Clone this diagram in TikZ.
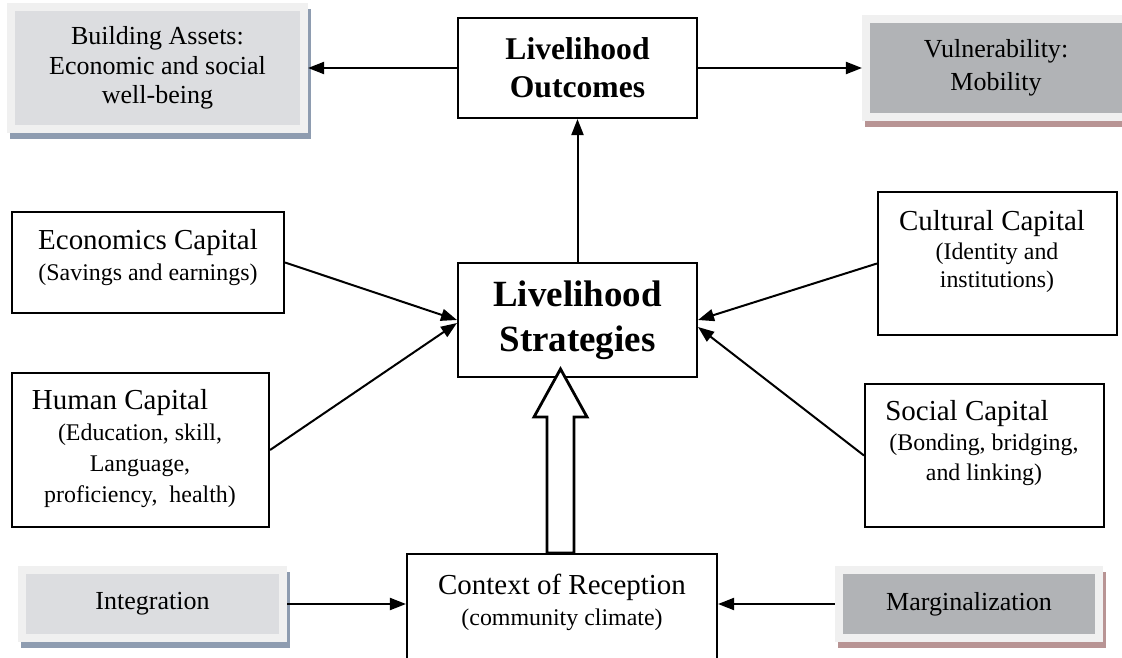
\documentclass[tikz,border=0pt]{standalone}
\usepackage{fontspec}
\setmainfont{Liberation Serif}
\usetikzlibrary{arrows.meta}
\definecolor{panelfill}{RGB}{220,221,224}
\definecolor{paneldark}{RGB}{177,179,182}
\definecolor{panelrim}{RGB}{240,240,240}
\definecolor{shadeblue}{RGB}{142,156,176}
\definecolor{shadered}{RGB}{184,148,148}
\newcommand\boxtitle[1]{{\fontsize{20.6}{22}\selectfont #1}}
\begin{document}
\begin{tikzpicture}[x=0.025cm,y=-0.025cm,
  box/.style={draw,line width=0.05cm,inner sep=0pt},
  panel/.style={fill=#1,draw=panelrim,line width=0.2cm,inner sep=0pt,align=center,
    font=\fontsize{18.5}{21}\selectfont},
  lowshade/.style={preaction={fill=#1,draw=#1,line width=0.2cm,
    transform canvas={xshift=0.075cm,yshift=-0.15cm}}},
  captext/.style={align=center,inner sep=0pt,font=\fontsize{17}{22}\selectfont},
  link/.style={line width=0.05cm,-{Triangle[length=0.4cm,width=0.3cm]}},
  hollow/.style={draw,fill=white,line width=0.07cm,line join=miter}]
  \useasboundingbox (0,0) rectangle (1122,657);
  % centre column
  \node[box,minimum width=5.975cm,minimum height=2.5cm,align=center,
    font=\bfseries\fontsize{22.5}{27}\selectfont] (outcomes) at (577.5,68) {Livelihood\\Outcomes};
  \node[box,minimum width=5.975cm,minimum height=2.85cm,align=center,
    font=\bfseries\fontsize{26.3}{32}\selectfont] (strategies) at (577.5,320) {Livelihood\\Strategies};
  \node[box,minimum width=7.75cm,minimum height=3.15cm] (context) at (562,617) {};
  \node[captext] (context-t) at (562,602) {\boxtitle{Context of Reception}\\(community climate)};
  % shaded panels
  \node[panel=panelfill,lowshade=shadeblue,minimum width=7.325cm,minimum height=3.05cm] (assets) at (157.5,68) {Building Assets:\\Economic and social\\well-being};
  \node[panel=paneldark,lowshade=shadered,minimum width=6.5cm,minimum height=2.45cm,
    font=\fontsize{18.5}{23.5}\selectfont] (vuln) at (996,68) {Vulnerability:\\Mobility};
  \node[panel=panelfill,lowshade=shadeblue,minimum width=6.525cm,minimum height=1.7cm] (integ) at (152.5,604) {Integration};
  \node[panel=paneldark,lowshade=shadered,minimum width=6.5cm,minimum height=1.7cm] (margin) at (969,604) {Marginalization};
  % capitals
  \node[box,minimum width=6.8cm,minimum height=2.525cm] (econ) at (148,262.5) {};
  \node[captext] (econ-t) at (148,257.5) {\boxtitle{Economics Capital}\\(Savings and earnings)};
  \node[box,minimum width=6.425cm,minimum height=3.85cm] (human) at (140.5,450) {};
  \node[captext] (human-t) at (140,448.5) {\boxtitle{Human Capital}\hspace*{1cm}\\(Education, skill,\\Language,\\proficiency,~ health)};
  \node[box,minimum width=5.975cm,minimum height=3.575cm] (cultural) at (997.5,263.5) {};
  \node[captext,font=\fontsize{17}{20.5}\selectfont] (cultural-t) at (997,251.5) {\boxtitle{Cultural Capital}\hspace*{0.25cm}\\(Identity and\\institutions)};
  \node[box,minimum width=5.975cm,minimum height=3.575cm] (social) at (984.5,455.5) {};
  \node[captext,font=\fontsize{17}{21}\selectfont] (social-t) at (984,443) {\boxtitle{Social Capital}\hspace*{0.85cm}\\(Bonding, bridging,\\and linking)};
  % arrows
  \draw[link] (strategies) -- (outcomes);
  \draw[link] (outcomes) -- (assets);
  \draw[link] (outcomes) -- (vuln);
  \draw[link] (econ.east) -- (strategies.west);
  \draw[link] (human.east) -- ([yshift=-0.075cm]strategies.west);
  \draw[link] (cultural.west) -- (strategies.east);
  \draw[link] (social.west) -- ([yshift=-0.175cm]strategies.east);
  \draw[link] (integ.east) -- (integ.east -| context.west);
  \draw[link] (margin.west) -- (margin.west -| context.east);
  \draw[hollow] (context.north) ++(-15,0) -- ++(0,-136) -- ++(-13,0) -- ++(26.5,-48)
    -- ++(26.5,48) -- ++(-13,0) -- ++(0,136) -- cycle;
\end{tikzpicture}
\end{document}
